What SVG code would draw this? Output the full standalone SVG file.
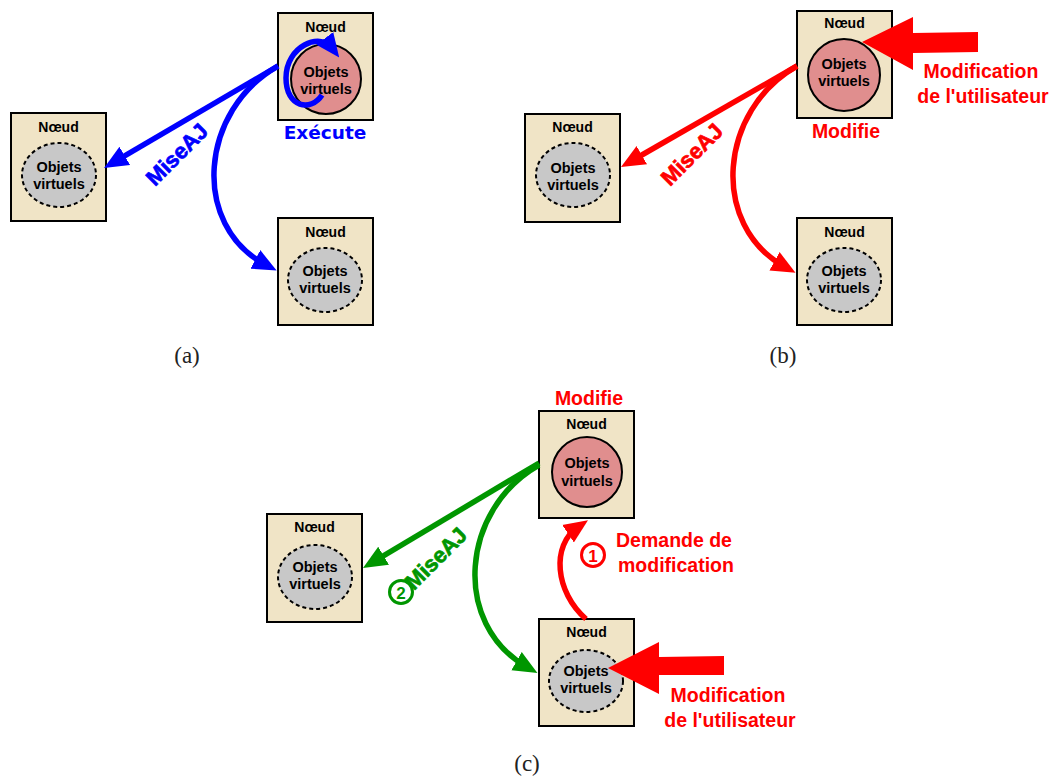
<svg xmlns="http://www.w3.org/2000/svg" width="1053" height="776" viewBox="0 0 1053 776">
<style>
.box{fill:#f0e4c6;stroke:#000;stroke-width:2}
.obj{fill:#e08e8e;stroke:#000;stroke-width:2}
.cpy{fill:#c8c8c8;stroke:#000;stroke-width:2;stroke-dasharray:4 3}
.t{font-family:"Liberation Sans",Arial,sans-serif;font-weight:bold;text-anchor:middle;fill:#000}
.n{font-size:14px}
.o{font-size:14.5px}
.lab{font-family:"Liberation Sans",Arial,sans-serif;font-weight:bold;text-anchor:middle}
.mise{font-family:"Liberation Sans",Arial,sans-serif;font-weight:bold;font-size:22px;stroke-width:0.7}
.cap{font-family:"Liberation Serif","Times New Roman",serif;font-size:23px;text-anchor:middle;fill:#222}
.ln{fill:none;stroke-width:5.5}
</style>
<defs>
<marker id="mb" viewBox="0 -12 24 24" refX="12" refY="0" markerWidth="24" markerHeight="24" markerUnits="userSpaceOnUse" orient="auto"><path d="M0,-10.5 L24,0 L0,10.5 Z" fill="#0000ff"/></marker>
<marker id="mr" viewBox="0 -12 24 24" refX="12" refY="0" markerWidth="24" markerHeight="24" markerUnits="userSpaceOnUse" orient="auto"><path d="M0,-10.5 L24,0 L0,10.5 Z" fill="#ff0000"/></marker>
<marker id="mg" viewBox="0 -12 24 24" refX="12" refY="0" markerWidth="24" markerHeight="24" markerUnits="userSpaceOnUse" orient="auto"><path d="M0,-10.5 L24,0 L0,10.5 Z" fill="#009600"/></marker>
</defs>

<!-- Panel (a) nodes -->
<g id="a-top">
<rect class="box" x="278" y="13" width="95" height="107"/>
<text class="t n" x="325.5" y="32">Nœud</text>
<circle class="obj" cx="326" cy="79" r="35"/>
<text class="t o" x="326" y="77">Objets</text>
<text class="t o" x="326" y="94">virtuels</text>
</g>
<g id="a-left">
<rect class="box" x="11" y="113" width="95" height="108"/>
<text class="t n" x="58.5" y="132">Nœud</text>
<ellipse class="cpy" cx="59" cy="175" rx="37" ry="32"/>
<text class="t o" x="59" y="172">Objets</text>
<text class="t o" x="59" y="189">virtuels</text>
</g>
<g id="a-bottom">
<rect class="box" x="278" y="218" width="95" height="107"/>
<text class="t n" x="325.5" y="237">Nœud</text>
<ellipse class="cpy" cx="325" cy="280" rx="37" ry="32"/>
<text class="t o" x="325" y="276">Objets</text>
<text class="t o" x="325" y="293">virtuels</text>
</g>

<!-- Panel (b) nodes -->
<g id="b-top">
<rect class="box" x="797" y="11" width="95" height="107"/>
<text class="t n" x="844.5" y="28">Nœud</text>
<circle class="obj" cx="844" cy="75" r="36"/>
<text class="t o" x="844" y="69">Objets</text>
<text class="t o" x="844" y="86">virtuels</text>
</g>
<g id="b-left">
<rect class="box" x="525" y="114" width="95" height="108"/>
<text class="t n" x="572.5" y="132">Nœud</text>
<ellipse class="cpy" cx="573" cy="175" rx="37" ry="32"/>
<text class="t o" x="573" y="173">Objets</text>
<text class="t o" x="573" y="190">virtuels</text>
</g>
<g id="b-bottom">
<rect class="box" x="797" y="218" width="95" height="107"/>
<text class="t n" x="844.5" y="237">Nœud</text>
<ellipse class="cpy" cx="844" cy="280" rx="37" ry="32"/>
<text class="t o" x="844" y="276">Objets</text>
<text class="t o" x="844" y="293">virtuels</text>
</g>

<!-- Panel (c) nodes -->
<g id="c-top">
<rect class="box" x="539" y="411" width="95" height="107"/>
<text class="t n" x="586.5" y="429">Nœud</text>
<circle class="obj" cx="587" cy="472" r="35"/>
<text class="t o" x="587" y="468">Objets</text>
<text class="t o" x="587" y="486">virtuels</text>
</g>
<g id="c-left">
<rect class="box" x="267" y="514" width="95" height="108"/>
<text class="t n" x="314.5" y="532">Nœud</text>
<ellipse class="cpy" cx="315" cy="577" rx="37" ry="32"/>
<text class="t o" x="315" y="572">Objets</text>
<text class="t o" x="315" y="589">virtuels</text>
</g>
<g id="c-bottom">
<rect class="box" x="539" y="619" width="95" height="107"/>
<text class="t n" x="586.5" y="637">Nœud</text>
<ellipse class="cpy" cx="586" cy="681" rx="37" ry="31"/>
<text class="t o" x="586" y="676">Objets</text>
<text class="t o" x="586" y="693">virtuels</text>
</g>

<!-- Connectors -->
<g id="connectors">
<path class="ln" stroke="#0000ff" d="M278 66 L114.4 161.9" marker-end="url(#mb)"/>
<path class="ln" stroke="#0000ff" d="M278 66 C200 110 190 225 266 265" marker-end="url(#mb)"/>
<path class="ln" stroke="#0000ff" d="M322 95 C311 112 286 108 286 78 C286 46 320 32 332 48" marker-end="url(#mb)"/>

<path class="ln" stroke="#ff0000" d="M797 66 L631.4 161" marker-end="url(#mr)"/>
<path class="ln" stroke="#ff0000" d="M797 66 C719 110 709 225 785 267" marker-end="url(#mr)"/>
<polygon fill="#ff0000" points="862,42 913,17 913,33 978,32 978,52 913,53 913,70"/>

<path class="ln" stroke="#009600" d="M539 463 L373.3 561.9" marker-end="url(#mg)"/>
<path class="ln" stroke="#009600" d="M539 465 C461 509 451 624 527 667" marker-end="url(#mg)"/>
<path class="ln" stroke="#ff0000" d="M586 619 C555 592 551 545 578 527" marker-end="url(#mr)"/>
<polygon fill="#ff0000" points="608,668 659,642 659,657 724,656 724,675 659,675 659,694"/>
</g>

<!-- Labels -->
<g id="labels">
<text class="mise" x="155" y="187" fill="#0000ff" stroke="#0000ff" transform="rotate(-45 155 187)">MiseAJ</text>
<text x="325" y="139" font-family="DejaVu Sans,sans-serif" font-weight="bold" font-size="18.5" text-anchor="middle" fill="#0000ff">Exécute</text>

<text class="mise" x="670" y="187" fill="#ff0000" stroke="#ff0000" transform="rotate(-45 670 187)">MiseAJ</text>
<text class="lab" x="846" y="138" font-size="19.5" fill="#ff0000">Modifie</text>
<text class="lab" x="981" y="78" font-size="19.5" fill="#ff0000">Modification</text>
<text class="lab" x="983" y="103" font-size="19.5" fill="#ff0000">de l'utilisateur</text>

<text class="lab" x="589" y="405" font-size="19.5" fill="#ff0000">Modifie</text>
<circle cx="593" cy="555" r="11.5" fill="none" stroke="#ff0000" stroke-width="3"/>
<text class="lab" x="593" y="561.5" font-size="17" fill="#ff0000">1</text>
<text class="lab" x="674" y="547" font-size="19.5" fill="#ff0000">Demande de</text>
<text class="lab" x="676" y="572" font-size="19.5" fill="#ff0000">modification</text>
<text class="lab" x="728" y="702" font-size="19.5" fill="#ff0000">Modification</text>
<text class="lab" x="730" y="727" font-size="19.5" fill="#ff0000">de l'utilisateur</text>

<circle cx="401" cy="592" r="11.5" fill="none" stroke="#009600" stroke-width="3"/>
<text class="lab" x="401" y="598.5" font-size="17" fill="#009600">2</text>
<text class="mise" x="414" y="591" fill="#009600" stroke="#009600" transform="rotate(-45 414 591)">MiseAJ</text>

<text class="cap" x="187" y="363">(a)</text>
<text class="cap" x="783" y="363">(b)</text>
<text class="cap" x="527" y="771">(c)</text>
</g>
</svg>
